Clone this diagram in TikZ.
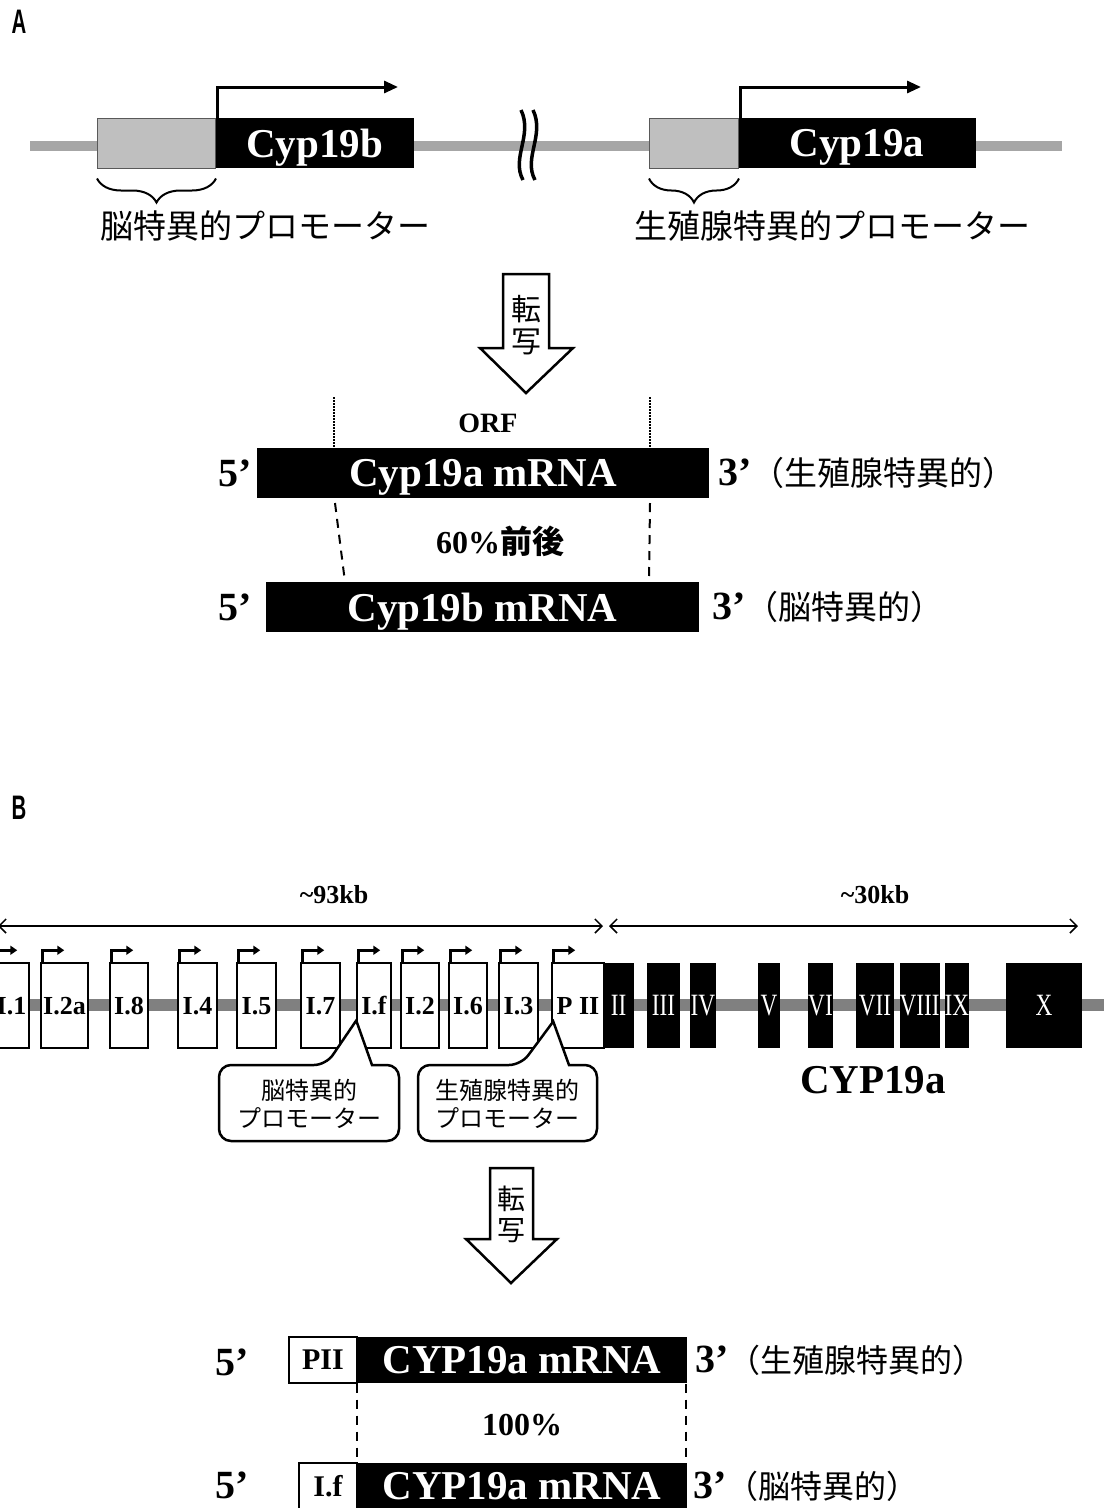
\documentclass[tikz,border=0pt]{standalone}
\usepackage{fontspec}
\setmainfont{Liberation Serif}
\newfontfamily\jp{Noto Sans CJK JP}
\newfontfamily\romfont[FakeStretch=0.75]{Liberation Serif}
\newfontfamily\lblfont[FakeStretch=0.6]{Liberation Sans}
\usetikzlibrary{arrows.meta,decorations.pathreplacing,positioning}
\newcommand{\fsz}[1]{\fontsize{#1}{#1}\selectfont}

\tikzset{every picture/.style={line width=1pt}}
\tikzset{
  promo/.style={draw=gray!70!black, fill=gray!50, minimum height=50pt, inner sep=0pt},
  gene/.style={fill=black, text=white, minimum height=50pt, inner sep=0pt, text depth=0pt, font=\bfseries\fsz{41}},
  jptxt/.style={font=\jp\fsz{33}, inner sep=0pt},
  tssA/.style={line width=3pt, -{Triangle[length=14pt,width=12pt]}},
  tssB/.style={line width=3pt, -{Triangle[length=7pt,width=9pt]}},
  brc/.style={decorate, decoration={brace, mirror, amplitude=24pt}, line width=2pt},
  txarrow/.style={draw, line width=2.5pt, fill=white, line join=miter},
  exw/.style={draw, fill=white, line width=1.5pt, minimum height=85pt, inner sep=0pt, text depth=0pt, font=\bfseries\fsz{26}},
  exb/.style={fill=black, text=white, minimum height=85pt, inner sep=0pt, text depth=0pt, font=\romfont\fsz{31}},
  bub/.style={draw, fill=white, line width=2.5pt},
  bubtxt/.style={font=\jp\fontsize{24}{28}\selectfont, align=center, inner sep=0pt},
  kb/.style={line width=1.5pt, {Straight Barb[length=7pt,width=14pt]}-{Straight Barb[length=7pt,width=14pt]}},
  dsh/.style={line width=2pt, dash pattern=on 9pt off 7pt},
  dots/.style={line width=1.5pt, dash pattern=on 1.5pt off 1.5pt},
  bold/.style={font=\bfseries\fsz{#1}, inner sep=0pt},
}

\begin{document}
\begin{tikzpicture}[x=1pt, y=-1pt]
\useasboundingbox (0,0) rectangle (1104,1508);

\node[font=\lblfont\bfseries\fsz{34}] (labA) at (19,22) {A};

\draw[line width=10pt, color=gray!70] (30,146) -- (1062,146);
\node[promo, minimum width=118pt, anchor=west] (pb) at (97,143) {};
\node[gene, minimum width=198pt, anchor=west] (gb) at (215,143) {Cyp19b};
\node[promo, minimum width=89pt, anchor=west] (pa) at (649,143) {};
\node[gene, minimum width=237pt, anchor=west] (ga) at (738,143) {Cyp19a};

\coordinate (tb) at (398,87);
\coordinate (ta) at (921,87);
\draw[tssA] ([xshift=2pt]gb.north west) |- (tb);
\draw[tssA] ([xshift=2pt]ga.north west) |- (ta);

\foreach \x in {521,533}
  \draw[line width=3.5pt] (\x,110) .. controls (\x+12,135) and (\x-10,158) .. (\x+2,180);

\draw[brc] ([yshift=-10pt]pb.south west) -- ([yshift=-10pt]pb.south east);
\draw[brc] ([yshift=-10pt]pa.south west) -- ([yshift=-10pt]pa.south east);
\node[jptxt] (lb) at (265,226) {脳特異的プロモーター};
\node[jptxt] (la) at (832,226) {生殖腺特異的プロモーター};

\draw[txarrow] (503,274) -- (549,274) -- (549,348) -- (573,348) -- (526,393) -- (480,348) -- (503,348) -- cycle;
\node[font=\jp\fsz{30}] (tenA) at (526,309) {転};
\node[font=\jp\fsz{30}] (shaA) at (526,342) {写};

\node[bold=28] (orf) at (488,423) {ORF};
\node[gene, minimum width=452pt] (mA) at (483,473) {Cyp19a mRNA};
\node[gene, minimum width=433pt] (mB) at (482.5,607) {Cyp19b mRNA};
\coordinate (oL) at (334,397);
\coordinate (oR) at (650,397);
\draw[dots] (oL) -- (oL |- mA.north);
\draw[dots] (oR) -- (oR |- mA.north);
\coordinate (dA) at (335,503);
\coordinate (dB) at (345,582);
\coordinate (dC) at (650,503);
\coordinate (dD) at (649,582);
\draw[dsh] (dA) -- (dB);
\draw[dsh] (dC) -- (dD);
\node[bold=32] (pA) at (500,541) {60\%{\jp 前後}};
\node[bold=40] (fA) at (235,473) {5’};
\node[bold=40] (fB) at (235,607) {5’};
\node[bold=40, anchor=west] (thA) at (718,473) {3’{\mdseries\jp\fsz{33}（生殖腺特異的）}};
\node[bold=40, anchor=west] (thB) at (712,607) {3’{\mdseries\jp\fsz{33}（脳特異的）}};

\node[font=\lblfont\bfseries\fsz{34}] (labB) at (19,808) {B};
\node[bold=26] (k93) at (334,895) {\textasciitilde93kb};
\node[bold=26] (k30) at (875,895) {\textasciitilde30kb};
\coordinate (k0) at (-2,926);
\coordinate (k1) at (603,926);
\coordinate (k2) at (609,926);
\coordinate (k3) at (1078,926);
\draw[kb] (k0) -- (k1);
\draw[kb] (k2) -- (k3);

\draw[line width=12pt, color=gray] (0,1005) -- (1104,1005);
\foreach \l/\r/\t/\n in {-6/29/I.1/p1, 41/88/I.2a/p2a, 110/148/I.8/p8, 178/217/I.4/p4, 237/276/I.5/p5, 301/340/I.7/p7, 357/391/I.f/pf, 401/439/I.2/p2, 449/487/I.6/p6, 499/538/I.3/p3, 552/604/P~II/pII} {
  \node[exw, minimum width={(\r-\l)*1pt}] (\n) at ({(\l+\r)/2},1005.5) {\t};
  \draw[tssB] ([xshift=2pt]\n.north west) |- ([xshift=24pt,yshift=12pt]\n.north west);
}
\foreach \l/\r/\t/\n in {603/634/II/e2, 647/680/III/e3, 690/716/IV/e4, 758/780/V/e5, 809/832/VI/e6, 856/894/VII/e7, 903/936/VIII/e8, 946/968/IX/e9, 1006/1082/X/e10}
  \node[exb, minimum width={(\r-\l)*1pt}] (\n) at ({(\l+\r)/2},1005.5) {\t};
\node[bold=41] (cyp) at (873,1080) {CYP19a};

\draw[bub] (326,1065) -- ([yshift=-15pt]pf.west) -- (372,1065) [rounded corners=12pt] -- (399,1065) -- (399,1141) -- (219,1141) -- (219,1065) -- cycle;
\node[bubtxt] (bt1) at (309,1104) {脳特異的\\プロモーター};
\draw[bub] (521,1065) -- ([xshift=2pt,yshift=-16pt]pII.west) -- (569,1065) [rounded corners=12pt] -- (597,1065) -- (597,1141) -- (418,1141) -- (418,1065) -- cycle;
\node[bubtxt] (bt2) at (507,1104) {生殖腺特異的\\プロモーター};

\draw[txarrow] (490,1168) -- (533,1168) -- (533,1239) -- (557,1239) -- (511,1283) -- (466,1239) -- (490,1239) -- cycle;
\node[font=\jp\fsz{28}] (tenB) at (511,1199) {転};
\node[font=\jp\fsz{28}] (shaB) at (511,1231) {写};

\node[exw, minimum width=68pt, minimum height=46pt, font=\bfseries\fsz{30}] (r1w) at (323,1360) {PII};
\node[gene, minimum width=330pt, minimum height=46pt] (r1b) at (522,1360) {CYP19a mRNA};
\node[exw, minimum width=58pt, minimum height=46pt, font=\bfseries\fsz{30}] (r2w) at (328,1486) {I.f};
\node[gene, minimum width=330pt, minimum height=46pt] (r2b) at (522,1486) {CYP19a mRNA};
\draw[dsh] (r1b.south west) -- (r2b.north west);
\draw[dsh] ([xshift=-2pt]r1b.south east) -- ([xshift=-2pt]r2b.north east);
\node[bold=32] (pct) at (522,1425) {100\%};
\node[bold=40] (fC) at (232,1362) {5’};
\node[bold=40] (fD) at (232,1485) {5’};
\node[bold=40, anchor=west] (thC) at (695,1360) {3’{\mdseries\jp\fsz{32}（生殖腺特異的）}};
\node[bold=40, anchor=west] (thD) at (693,1486) {3’{\mdseries\jp\fsz{32}（脳特異的）}};
\end{tikzpicture}
\end{document}
